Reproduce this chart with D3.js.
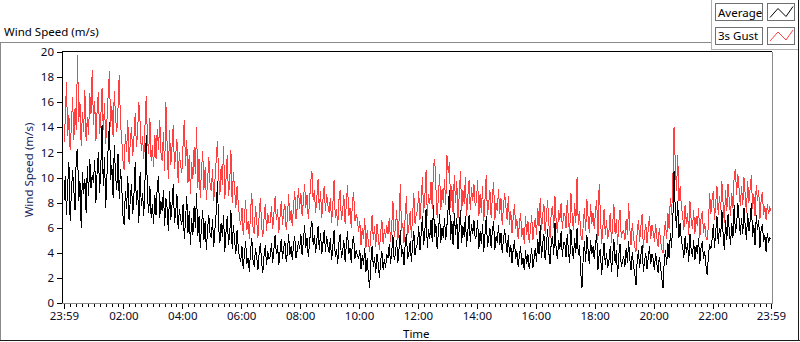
<!DOCTYPE html>
<html><head><meta charset="utf-8">
<script src="https://cdn.jsdelivr.net/npm/d3@7"></script>
<style>
html,body{margin:0;padding:0;background:#fff;}
svg{display:block;font-family:"Noto Sans","DejaVu Sans",sans-serif;}
</style></head>
<body>
<svg id="c" width="800" height="342"></svg>
<script>
// ---- data (2.5-minute samples starting 23:59, one hour = two rows) ----
const seriesNames = ["Average", "3s Gust"];
const average = [
8.2,10.1,7.0,9.4,11.2,6.5,8.8,10.6,9.0,7.4,11.8,12.3,
8.1,9.7,6.0,10.4,8.7,9.9,7.2,10.9,8.5,11.5,9.2,10.2,
9.6,11.4,8.0,10.5,12.0,8.8,10.9,14.2,9.3,11.6,7.6,10.2,
12.4,14.4,9.8,11.0,8.4,12.6,10.1,9.0,11.9,8.3,10.7,9.4,
7.0,6.2,8.9,7.5,10.1,6.6,8.2,9.5,7.1,8.6,11.2,7.8,
9.0,6.4,10.4,7.7,8.8,6.9,9.8,13.4,8.4,7.2,9.3,6.8,
7.9,6.3,8.6,7.0,9.4,10.1,6.8,8.1,7.3,9.0,6.1,8.4,
7.6,5.7,8.9,6.6,7.8,9.5,6.4,7.2,8.7,5.9,7.5,6.7,
6.2,7.9,5.1,6.6,8.5,5.6,7.3,4.6,6.8,5.4,7.7,6.0,
8.8,5.3,6.9,4.4,6.1,7.4,5.0,6.5,4.2,5.9,7.0,5.5,
5.2,6.7,4.5,5.9,7.2,9.7,6.0,4.8,6.4,5.3,7.0,4.1,
5.7,6.9,4.6,5.5,7.4,4.3,6.2,5.0,3.9,5.8,4.4,3.6,
3.3,4.5,2.7,3.9,4.9,3.1,3.6,2.5,4.2,5.2,3.4,2.9,
4.4,3.7,2.6,4.0,4.8,3.2,2.4,3.8,4.6,3.0,4.1,3.5,
3.7,4.8,3.2,4.3,5.4,3.9,4.6,3.0,4.1,5.1,3.5,4.4,
4.9,3.3,4.0,5.5,3.8,4.5,3.4,4.7,5.3,3.6,4.2,4.9,
4.3,5.5,3.8,4.9,6.2,4.4,5.2,3.7,4.7,5.9,6.5,4.6,
5.4,4.0,5.0,6.1,4.2,5.6,3.9,4.8,5.8,4.1,5.3,4.5,
4.0,5.2,3.4,4.5,5.8,3.7,4.3,3.1,4.8,5.5,3.6,4.1,
5.0,3.3,4.6,5.7,3.9,4.4,3.2,4.9,5.3,3.5,4.2,3.8,
3.5,4.2,2.7,3.8,3.0,4.4,2.5,3.6,2.2,1.2,3.3,4.5,
2.9,3.7,2.4,3.9,3.1,2.0,3.4,4.1,2.6,3.5,2.8,3.9,
3.6,4.7,3.1,4.1,5.4,3.4,3.9,5.0,3.2,4.4,5.8,3.7,
4.3,3.0,4.8,5.5,3.5,4.0,4.9,3.3,4.6,5.7,3.8,4.5,
4.7,6.1,4.2,5.5,6.9,4.6,5.8,7.5,4.4,5.9,5.1,6.6,
4.9,7.8,5.3,6.3,4.3,5.6,7.1,4.8,6.0,5.2,6.8,5.0,
6.2,7.6,9.0,5.0,6.5,4.6,7.2,5.4,6.8,4.3,5.9,7.4,
4.8,6.1,5.3,6.9,4.5,5.7,7.0,4.9,6.3,5.5,6.6,5.1,
5.4,6.6,4.3,5.7,4.7,6.3,4.1,5.5,6.9,4.5,5.1,6.0,
4.4,5.8,6.5,4.2,5.3,4.8,6.2,4.6,5.6,4.0,5.0,5.9,
4.9,4.0,5.4,3.7,4.6,3.2,4.3,5.0,3.5,4.1,2.9,3.8,
4.5,3.0,3.6,2.6,4.2,3.1,3.9,2.7,3.4,4.4,2.8,3.6,
4.4,3.3,5.1,3.9,6.2,3.6,4.7,5.5,3.4,4.6,5.9,4.0,
3.1,4.9,5.3,3.8,6.4,4.2,3.5,5.0,4.3,5.7,3.7,4.8,
4.8,3.7,5.5,4.1,3.2,5.9,4.4,3.5,5.2,4.0,6.0,3.8,
4.6,2.4,1.2,3.6,4.9,3.3,5.4,4.2,3.1,5.0,3.9,4.5,
3.5,4.6,5.5,2.6,3.9,4.3,2.2,3.6,4.8,3.0,4.0,2.8,
3.4,4.5,2.5,3.7,5.1,3.2,4.2,2.1,3.8,4.7,2.9,3.3,
3.7,2.9,4.4,3.2,4.9,3.5,2.6,4.1,3.0,2.3,1.4,3.4,
4.2,2.8,3.8,4.6,2.5,3.3,4.0,2.7,3.6,4.5,3.1,3.9,
3.5,2.6,4.0,3.1,2.4,3.7,2.9,2.0,1.2,3.3,4.2,3.0,
4.8,3.6,5.6,4.4,6.5,10.5,7.4,6.0,8.1,5.2,6.4,4.9,
4.5,3.6,5.3,4.0,4.8,3.3,5.5,4.2,3.7,5.0,3.4,4.6,
3.9,5.2,3.1,4.4,4.9,3.5,4.1,3.0,2.2,3.8,4.7,4.3,
5.1,6.3,4.4,5.7,6.9,4.7,6.0,5.3,7.4,5.5,4.2,6.6,
5.0,7.1,5.8,4.6,6.4,5.2,7.8,5.6,6.2,8.0,6.7,5.4,
6.8,5.5,7.6,6.1,5.0,7.2,5.7,6.5,8.0,5.3,6.2,4.6,
7.0,5.8,6.6,4.4,5.9,6.3,4.9,5.4,4.1,5.6,4.8,5.2,
5.1
];
const gust = [
12.8,14.6,17.6,13.3,15.0,12.2,14.1,16.4,13.0,15.5,13.8,19.8,
14.4,16.0,12.5,15.2,13.6,17.0,12.9,14.8,13.4,16.7,15.1,18.6,
14.2,16.1,12.9,15.4,16.8,13.5,14.9,17.1,13.8,15.9,12.7,14.6,
16.6,18.5,14.0,15.7,13.2,16.9,14.8,13.6,15.5,18.2,14.4,13.1,
11.4,10.6,13.5,12.0,14.6,11.1,12.8,14.0,11.7,13.2,15.1,12.4,
13.7,16.0,14.4,12.1,13.3,11.5,14.2,16.5,13.0,11.9,14.7,11.3,
12.6,10.8,13.4,11.5,13.9,12.2,14.6,12.0,11.3,13.6,10.5,16.0,
12.7,9.9,13.8,11.0,12.4,14.2,10.7,11.8,13.1,9.6,12.0,10.9,
10.4,12.6,14.6,10.9,13.0,9.6,11.8,8.7,11.2,9.9,12.4,10.3,
14.0,9.2,11.5,8.4,10.6,12.1,9.0,10.8,8.2,9.7,11.6,9.5,
8.9,10.7,8.1,9.8,11.4,12.9,10.2,8.6,10.9,9.4,12.5,8.3,
9.9,11.8,8.5,9.6,12.2,8.0,10.4,9.1,7.6,9.3,7.9,6.8,
6.2,7.6,5.4,6.9,8.2,5.8,6.5,5.1,7.3,8.8,6.0,5.5,
7.7,6.6,5.2,7.0,8.4,6.1,5.3,6.8,7.9,5.7,7.2,6.4,
6.4,7.7,5.9,7.1,8.5,6.6,7.5,5.6,6.9,8.1,6.2,7.3,
7.9,5.8,6.8,8.7,6.5,7.4,6.1,7.8,8.9,6.7,7.6,9.2,
7.5,8.8,6.9,8.1,9.5,7.6,8.6,6.7,8.0,9.7,10.5,8.2,
9.0,7.2,8.4,9.9,7.4,8.9,6.8,8.3,9.3,7.3,8.7,7.8,
7.2,8.4,6.4,7.8,9.8,6.8,7.5,6.1,8.2,9.0,6.6,7.3,
8.6,6.3,7.9,9.4,6.9,7.6,6.0,8.1,8.8,6.5,7.1,6.7,
5.7,6.5,4.6,6.0,5.1,6.8,4.4,5.8,4.8,4.1,5.5,7.0,
5.0,6.1,4.5,6.3,5.3,4.2,5.6,6.6,4.7,5.9,5.2,6.2,
5.5,6.8,4.9,6.2,8.1,5.3,6.0,7.4,5.0,6.6,9.5,5.7,
6.4,4.8,7.0,8.5,5.4,6.1,7.3,5.2,6.9,8.8,6.3,7.1,
7.3,8.9,6.6,8.2,10.0,7.2,8.5,10.6,6.9,8.7,7.9,9.6,
7.5,10.9,11.5,9.2,6.8,8.4,10.3,7.4,9.1,8.0,9.9,7.8,
11.8,10.4,11.2,7.6,9.3,7.1,10.2,8.0,9.7,6.8,8.6,10.5,
7.3,9.0,7.9,10.0,6.9,8.5,9.8,7.4,9.2,8.1,9.5,7.7,
8.1,9.8,6.9,8.7,7.2,9.3,6.5,8.3,10.2,7.0,7.9,9.0,
6.8,8.5,9.6,6.6,8.0,7.3,9.1,7.1,8.4,6.2,7.6,8.8,
7.7,6.6,8.5,6.2,7.3,5.6,6.8,7.9,5.9,6.7,5.1,6.3,
7.2,5.3,6.0,4.7,6.9,5.4,6.5,4.8,5.8,7.0,5.0,6.1,
6.8,5.4,7.6,6.1,8.4,5.8,7.0,7.9,5.5,6.9,8.2,6.3,
5.2,7.3,7.7,6.0,8.5,6.5,5.6,7.4,6.6,8.0,5.9,7.1,
7.1,6.0,8.2,6.5,5.5,8.8,7.0,5.8,8.0,6.4,10.0,6.2,
7.3,5.4,5.0,6.1,7.6,5.7,8.3,6.8,5.6,7.9,6.3,7.2,
5.9,7.3,8.2,5.0,9.5,7.1,4.7,6.0,7.5,5.4,6.6,5.1,
5.8,7.2,4.8,6.2,7.9,5.5,6.7,4.6,6.4,7.4,5.2,5.7,
5.8,5.0,6.7,5.4,8.0,5.9,4.6,6.4,5.2,4.5,4.1,5.7,
6.6,4.9,6.1,7.1,4.4,5.5,6.3,4.8,5.9,6.9,5.1,6.2,
5.7,4.9,6.3,5.2,4.5,6.0,5.0,4.3,4.0,5.6,6.5,5.1,
7.2,5.9,8.4,7.0,9.6,14.0,11.2,8.9,11.8,8.1,9.3,7.6,
7.0,5.8,7.8,6.3,7.2,5.4,8.1,6.5,5.9,7.4,5.5,6.9,
6.1,7.6,5.2,6.7,7.3,5.6,6.4,5.3,5.0,6.2,8.8,7.1,
8.3,8.9,6.6,8.0,9.3,7.0,8.5,7.4,9.7,7.9,6.4,9.0,
7.3,9.5,8.2,6.9,8.8,7.6,10.1,10.7,8.6,10.3,9.1,7.7,
9.3,7.8,10.0,8.6,7.2,9.7,8.0,9.1,10.2,7.5,8.7,6.9,
9.4,8.1,9.0,6.7,8.3,8.8,7.0,7.7,6.6,7.9,7.1,7.6,
7.3
];
const yTicks = [0,2,4,6,8,10,12,14,16,18,20];
const xTickLabels = ["23:59","02:00","04:00","06:00","08:00","10:00","12:00","14:00","16:00","18:00","20:00","22:00","23:59"];
const stepMinutes = 2.5;
const startTime = new Date(2000,0,1,23,59);
const endTime = new Date(2000,0,2,23,59);

// ---- drawing ----
const svg = d3.select("#c");
const L=62, T=51.5, R=772, B=303;
const x = d3.scaleTime().domain([startTime,endTime]).range([64,771]);
const y = d3.scaleLinear().domain([0,20]).range([B,52]);
const t = i => new Date(startTime.getTime()+i*stepMinutes*60000);

// outer frames
const g0 = svg.append("g").attr("shape-rendering","crispEdges");
g0.append("line").attr("x1",0).attr("x2",711.5).attr("y1",42.5).attr("y2",42.5).attr("stroke","#8a8a8a");
g0.append("line").attr("x1",0.5).attr("x2",0.5).attr("y1",42).attr("y2",341).attr("stroke","#8a8a8a");
g0.append("line").attr("x1",711.5).attr("x2",711.5).attr("y1",0).attr("y2",49.5).attr("stroke","#b0b0b0");
g0.append("line").attr("x1",711).attr("x2",799).attr("y1",49.5).attr("y2",49.5).attr("stroke","#b0b0b0");
g0.append("line").attr("x1",0).attr("x2",800).attr("y1",340.5).attr("y2",340.5).attr("stroke","#1a1a1a");
g0.append("line").attr("x1",798.5).attr("x2",798.5).attr("y1",0).attr("y2",341).attr("stroke","#1a1a1a");

svg.append("text").attr("x",4).attr("y",36).attr("font-size","11.5px").attr("fill","#000").text("Wind Speed (m/s)");

// plot clip
svg.append("clipPath").attr("id","pc").append("rect").attr("x",L+1).attr("y",T).attr("width",R-L-1).attr("height",B-T);

const line = d3.line().x((d,i)=>x(t(i))).y(d=>y(d));
const pg = svg.append("g").attr("clip-path","url(#pc)");
pg.append("path").datum(gust).attr("d",line).attr("fill","none").attr("stroke","#ff4040").attr("stroke-width",1).attr("shape-rendering","crispEdges");
pg.append("path").datum(average).attr("d",line).attr("fill","none").attr("stroke","#000").attr("stroke-width",1).attr("shape-rendering","crispEdges");

// plot frame
const fr = svg.append("g").attr("shape-rendering","crispEdges");
fr.append("line").attr("x1",L).attr("x2",R).attr("y1",T).attr("y2",T).attr("stroke","#000");
fr.append("line").attr("x1",L+0.5).attr("x2",L+0.5).attr("y1",T).attr("y2",B).attr("stroke","#000");
fr.append("line").attr("x1",R+0.5).attr("x2",R+0.5).attr("y1",T).attr("y2",B+0.5).attr("stroke","#8a8a8a");
fr.append("line").attr("x1",L).attr("x2",R+1).attr("y1",B+0.5).attr("y2",B+0.5).attr("stroke","#8a8a8a");

// y axis
const ya = svg.append("g").attr("transform",`translate(${L},0)`)
  .call(d3.axisLeft(y).tickValues(yTicks).tickSize(5).tickPadding(3).tickFormat(d3.format("d")));
ya.select(".domain").remove();
ya.selectAll("line").attr("stroke","#000").attr("shape-rendering","crispEdges");
ya.selectAll("text").attr("font-size","11.5px").attr("fill","#0a0a28").attr("font-family","'Noto Sans',sans-serif");

svg.append("text").attr("transform","translate(33,170) rotate(-90)").attr("text-anchor","middle")
  .attr("font-size","11.5px").attr("fill","#16245a").text("Wind Speed (m/s)");

// x axis
const majorTimes = [startTime];
for(let h=2; h<=22; h+=2) majorTimes.push(new Date(2000,0,2,h,0));
majorTimes.push(endTime);
const minorTimes = d3.timeMinute.every(12).range(startTime,endTime).filter(d=>d.getMinutes()!==0||d.getHours()%2!==0);

const xaMinor = svg.append("g").attr("transform",`translate(0,${B+1})`)
  .call(d3.axisBottom(x).tickValues(minorTimes).tickSize(3).tickFormat(""));
xaMinor.select(".domain").remove();
xaMinor.selectAll("line").attr("stroke","#000").attr("shape-rendering","crispEdges");

const xa = svg.append("g").attr("transform",`translate(0,${B+1})`)
  .call(d3.axisBottom(x).tickValues(majorTimes).tickSize(5).tickPadding(3).tickFormat((d,i)=>xTickLabels[i]));
xa.select(".domain").remove();
xa.selectAll("line").attr("stroke","#000").attr("stroke-width",1).attr("shape-rendering","crispEdges");
xa.selectAll("text").attr("font-size","11.5px").attr("fill","#0a0a28").attr("font-family","'Noto Sans',sans-serif");

svg.append("text").attr("x",403).attr("y",338).attr("font-size","11.5px").attr("fill","#000").text("Time");

// legend
const lg = svg.append("g");
const colors = ["#000","#ff4040"];
seriesNames.forEach((n,i)=>{
  const yy = 3.5 + i*23.5;
  lg.append("rect").attr("x",715.5).attr("y",yy).attr("width",47).attr("height",17).attr("fill","#fff").attr("stroke","#707070").attr("shape-rendering","crispEdges");
  lg.append("text").attr("x",718).attr("y",yy+13).attr("font-size","11.5px").attr("fill","#000").text(n);
  lg.append("rect").attr("x",767.5).attr("y",yy).attr("width",27).attr("height",17).attr("fill","#fff").attr("stroke","#707070").attr("shape-rendering","crispEdges");
  lg.append("polyline").attr("points",`${770},${yy+14} ${778},${yy+5} ${786},${yy+13} ${793},${yy+3}`)
    .attr("fill","none").attr("stroke",colors[i]).attr("stroke-width",1);
});
</script>
</body></html>
